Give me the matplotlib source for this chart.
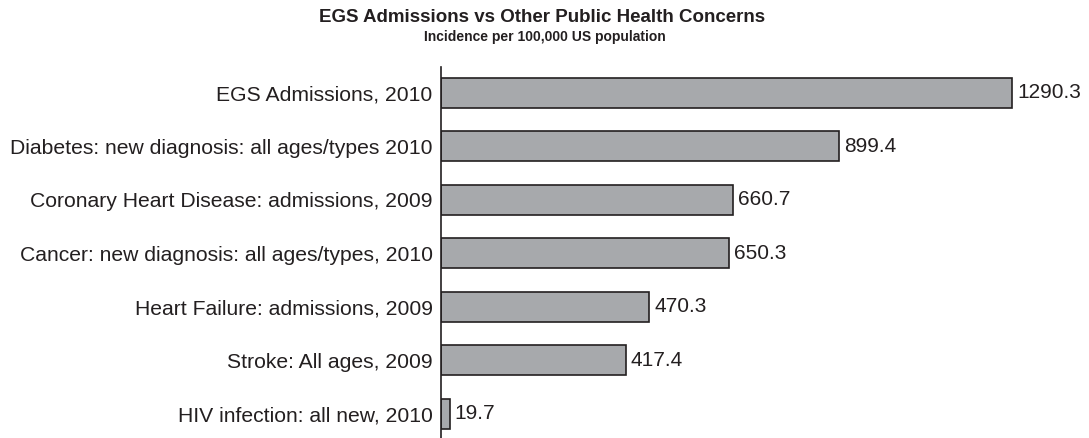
import matplotlib
matplotlib.use('Agg')
import matplotlib.pyplot as plt

plt.rcParams['font.family'] = ['Liberation Sans', 'DejaVu Sans']

categories = ['EGS Admissions, 2010',
              'Diabetes: new diagnosis: all ages/types 2010',
              'Coronary Heart Disease: admissions, 2009',
              'Cancer: new diagnosis: all ages/types, 2010',
              'Heart Failure: admissions, 2009',
              'Stroke: All ages, 2009',
              'HIV infection: all new, 2010']
incidence = [1290.3, 899.4, 660.7, 650.3, 470.3, 417.4, 19.7]

title = 'EGS Admissions vs Other Public Health Concerns'
subtitle = 'Incidence per 100,000 US population'

ink = '#231f20'

fig = plt.figure(figsize=(10.89, 4.38), dpi=100)
ax = fig.add_axes([441 / 1089, 0, 0.57, 1 - 67 / 438])

pos = list(range(len(categories)))
ax.barh(pos, incidence, height=0.56, color='#a7a9ac', edgecolor=ink, linewidth=1.2)
# value labels just right of each bar end
for p, v in zip(pos, incidence):
    ax.text(v + 11, p, '%.1f' % v, va='center', ha='left', fontsize=15, color=ink)

ax.set_yticks(pos)
ax.set_yticklabels(categories, fontsize=15.2, color=ink)
ax.tick_params(axis='y', length=0, pad=6)
ax.set_ylim(6.45, -0.48)
ax.set_xlim(0, 1290.3 / (571 / 620.7))
ax.set_xticks([])
for side in ['top', 'right', 'bottom']:
    ax.spines[side].set_visible(False)
ax.spines['left'].set_color(ink)
ax.spines['left'].set_linewidth(1.2)

fig.text(542 / 1089, 1 - 18 / 438, title, ha='center', va='center', fontsize=13.5, fontweight='bold', color=ink)
fig.text(545 / 1089, 1 - 37 / 438, subtitle, ha='center', va='center', fontsize=10, fontweight='bold', color=ink)

fig.savefig('out.png', dpi=100)
